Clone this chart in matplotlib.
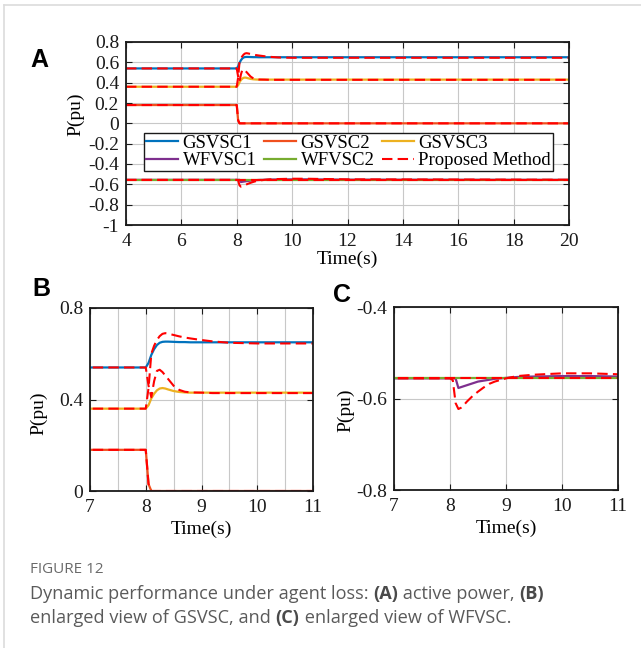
import matplotlib
matplotlib.use('Agg')
import matplotlib.pyplot as plt
from matplotlib.lines import Line2D
from matplotlib.ticker import FuncFormatter, MultipleLocator

plt.rcParams['font.family'] = ['Liberation Serif', 'DejaVu Serif']
plt.rcParams['axes.unicode_minus'] = False

# ---------------- data ----------------
time = [4.0, 8.0, 8.05, 8.1, 8.15, 8.2, 8.25, 8.3, 8.35, 8.4, 8.5, 8.6, 8.7,
        8.8, 9.0, 9.2, 9.5, 10.0, 10.5, 11.0, 12.0, 20.0]
gsvsc1 = [0.54, 0.54, 0.56, 0.595, 0.62, 0.638, 0.648, 0.652, 0.653, 0.653, 0.652,
          0.651, 0.651, 0.65, 0.65, 0.65, 0.65, 0.65, 0.65, 0.65, 0.65, 0.65]
gsvsc2 = [0.18, 0.18, 0.03, 0.0, 0.0, 0.0, 0.0, 0.0, 0.0, 0.0, 0.0,
          0.0, 0.0, 0.0, 0.0, 0.0, 0.0, 0.0, 0.0, 0.0, 0.0, 0.0]
gsvsc3 = [0.36, 0.36, 0.375, 0.405, 0.425, 0.44, 0.448, 0.45, 0.448, 0.444, 0.437,
          0.433, 0.431, 0.43, 0.43, 0.43, 0.43, 0.43, 0.43, 0.43, 0.43, 0.43]
wfvsc1 = [-0.556, -0.556, -0.556, -0.556, -0.577, -0.575, -0.573, -0.571, -0.569, -0.567, -0.563,
          -0.561, -0.559, -0.557, -0.555, -0.553, -0.552, -0.551, -0.551, -0.552, -0.554, -0.556]
wfvsc2 = [-0.556, -0.556, -0.556, -0.556, -0.556, -0.556, -0.556, -0.556, -0.556, -0.556, -0.556,
          -0.556, -0.556, -0.556, -0.556, -0.556, -0.556, -0.556, -0.556, -0.556, -0.556, -0.556]
# proposed method (red dashed), one trace per converter
prop_a = [0.36, 0.36, 0.45, 0.60, 0.635, 0.66, 0.677, 0.687, 0.69, 0.688, 0.682,
          0.676, 0.671, 0.667, 0.66, 0.654, 0.648, 0.645, 0.645, 0.645, 0.645, 0.645]
prop_b = [0.54, 0.54, 0.46, 0.41, 0.48, 0.525, 0.53, 0.52, 0.505, 0.49, 0.46,
          0.442, 0.434, 0.431, 0.43, 0.428, 0.428, 0.428, 0.428, 0.428, 0.428, 0.428]
prop_c = [0.18, 0.18, 0.03, 0.0, 0.0, 0.0, 0.0, 0.0, 0.0, 0.0, 0.0,
          0.0, 0.0, 0.0, 0.0, 0.0, 0.0, 0.0, 0.0, 0.0, 0.0, 0.0]
prop_d = [-0.556, -0.556, -0.56, -0.61, -0.623, -0.62, -0.614, -0.607, -0.601, -0.595, -0.585,
          -0.576, -0.568, -0.563, -0.556, -0.551, -0.548, -0.545, -0.545, -0.547, -0.551, -0.555]
prop_e = [-0.556, -0.556, -0.556, -0.556, -0.556, -0.556, -0.556, -0.556, -0.556, -0.556, -0.556,
          -0.556, -0.556, -0.556, -0.556, -0.556, -0.556, -0.556, -0.556, -0.556, -0.556, -0.556]

series_names = ['GSVSC1', 'GSVSC2', 'GSVSC3', 'WFVSC1', 'WFVSC2']
proposed_name = 'Proposed Method'

colors = ['#0072BD', '#F0501E', '#EDB120', '#7E2F8E', '#77AC30']
red = '#FF0000'

W, H = 641, 648
fig = plt.figure(figsize=(W / 100, H / 100), dpi=100)


def fbox(l, t, r, b):
    return [l / W, 1 - b / H, (r - l) / W, (b - t) / H]


fmt = FuncFormatter(lambda v, p: ('%g' % round(v, 6)).replace('\u2212', '-'))


def style(ax):
    for s in ax.spines.values():
        s.set_linewidth(1.3)
        s.set_color('#1a1a1a')
    ax.tick_params(direction='in', length=4, width=0.8, top=True, right=True,
                   labelsize=14, colors='#1a1a1a')
    ax.tick_params(axis='x', pad=6)
    ax.tick_params(axis='y', pad=5)
    ax.tick_params(which='minor', length=0)
    ax.yaxis.set_major_formatter(fmt)
    ax.xaxis.set_major_formatter(fmt)
    ax.set_axisbelow(True)


def draw(ax):
    solids = [gsvsc1, gsvsc2, gsvsc3, wfvsc1, wfvsc2]
    hs = []
    for y, c, n in zip(solids, colors, series_names):
        h, = ax.plot(time, y, color=c, lw=1.6, label=n)
        hs.append(h)
    hp = None
    for y in [prop_a, prop_b, prop_c, prop_d, prop_e]:
        hp, = ax.plot(time, y, color=red, lw=1.5, dashes=(5, 2.5), label=proposed_name)
    return hs + [hp]

gridkw = dict(color='#c8c8c8', lw=0.8)

# ---------------- Panel A ----------------
axA = fig.add_axes(fbox(126, 42, 569, 225))
hs = draw(axA)
axA.set_xlim(4, 20)
axA.set_ylim(-1, 0.8)
axA.xaxis.set_major_locator(MultipleLocator(2))
axA.yaxis.set_major_locator(MultipleLocator(0.2))
axA.grid(True, **gridkw)
style(axA)
axA.set_ylabel('P(pu)', fontsize=14)
axA.yaxis.set_label_coords(-0.093, 0.607)
axA.set_xlabel('Time(s)', fontsize=14, labelpad=0.5)
order = [0, 3, 1, 4, 2, 5]
leg = axA.legend([hs[i] for i in order], [hs[i].get_label() for i in order],
                 ncol=3, loc='upper left', bbox_to_anchor=(0.041, 0.503),
                 borderaxespad=0, fontsize=13.5, frameon=True, fancybox=False,
                 edgecolor='#1a1a1a', framealpha=1, handlelength=1.7,
                 handletextpad=0.25, columnspacing=0.4, labelspacing=0.0,
                 borderpad=0.1)
leg.get_frame().set_linewidth(1.0)

# ---------------- Panel B ----------------
axB = fig.add_axes(fbox(90, 308, 313, 491))
draw(axB)
axB.set_xlim(7, 11)
axB.set_ylim(0, 0.8)
axB.xaxis.set_major_locator(MultipleLocator(1))
axB.xaxis.set_minor_locator(MultipleLocator(0.5))
axB.yaxis.set_major_locator(MultipleLocator(0.4))
axB.grid(True, which='both', axis='x', **gridkw)
axB.grid(True, which='major', axis='y', **gridkw)
style(axB)
axB.set_ylabel('P(pu)', fontsize=14)
axB.yaxis.set_label_coords(-0.193, 0.426)
axB.set_xlabel('Time(s)', fontsize=14, labelpad=3)

# ---------------- Panel C ----------------
axC = fig.add_axes(fbox(394, 307, 618, 490))
draw(axC)
axC.set_xlim(7, 11)
axC.set_ylim(-0.8, -0.4)
axC.xaxis.set_major_locator(MultipleLocator(1))
axC.yaxis.set_major_locator(MultipleLocator(0.2))
axC.grid(True, **gridkw)
style(axC)
axC.set_ylabel('P(pu)', fontsize=14)
axC.yaxis.set_label_coords(-0.179, 0.437)
axC.set_xlabel('Time(s)', fontsize=14, labelpad=3)

# ---------------- panel letters ----------------
for letter, x, y in [('A', 30, 67), ('B', 32, 296), ('C', 333, 302)]:
    fig.text(x / W, 1 - y / H, letter, fontsize=18, fontweight='bold',
             family=['Liberation Sans', 'DejaVu Sans'], va='baseline', ha='left')

# ---------------- frame lines ----------------
fig.add_artist(Line2D([4 / W, 1], [1 - 5 / H, 1 - 5 / H], transform=fig.transFigure,
                      color='#dcdcdc', lw=1.2))
fig.add_artist(Line2D([4 / W, 4 / W], [1 - 5 / H, 0], transform=fig.transFigure,
                      color='#dcdcdc', lw=1.2))

# ---------------- caption ----------------
cap_font = ['Open Sans', 'DejaVu Sans']
fig.text(30 / W, 1 - 573 / H, 'FIGURE 12', fontsize=11, color='#6a6a6a',
         family=cap_font, va='baseline')

renderer = fig.canvas.get_renderer()


def run_width(s, weight, size):
    t1 = fig.text(0, 0, s + '|', fontsize=size, fontweight=weight, family=cap_font)
    t2 = fig.text(0, 0, '|', fontsize=size, fontweight=weight, family=cap_font)
    w = t1.get_window_extent(renderer).width - t2.get_window_extent(renderer).width
    t1.remove()
    t2.remove()
    return w


def draw_runs(x, y, runs, size=13.1):
    for s, weight, c in runs:
        fig.text(x / W, 1 - y / H, s, fontsize=size, fontweight=weight, color=c,
                 family=cap_font, va='baseline')
        x += run_width(s, weight, size)

cg = '#5a5a5a'
cb = '#4a4a4a'
draw_runs(30, 599, [('Dynamic performance under agent loss: ', 'normal', cg),
                    ('(A)', 'bold', cb), (' active power, ', 'normal', cg),
                    ('(B)', 'bold', cb)])
draw_runs(30, 623, [('enlarged view of GSVSC, and ', 'normal', cg),
                    ('(C)', 'bold', cb), (' enlarged view of WFVSC.', 'normal', cg)])

fig.savefig('out.png', dpi=100)
